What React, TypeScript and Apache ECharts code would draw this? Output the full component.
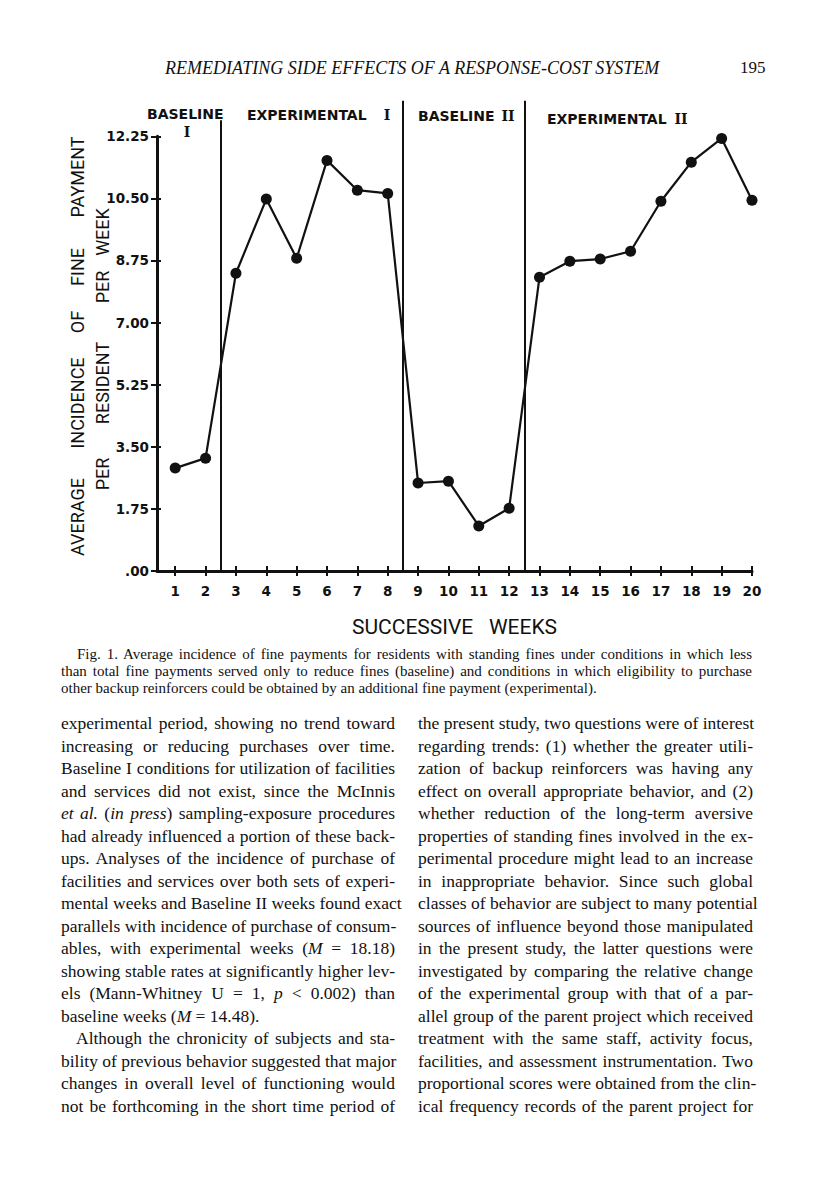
import React, { useEffect, useRef } from "react";
import * as echarts from "echarts";

// ---------- data ----------
const weeks = [1, 2, 3, 4, 5, 6, 7, 8, 9, 10, 11, 12, 13, 14, 15, 16, 17, 18, 19, 20];
const incidence = [2.9, 3.18, 8.39, 10.48, 8.81, 11.57, 10.73, 10.64, 2.48, 2.53, 1.27, 1.77, 8.28, 8.73, 8.79, 9.01, 10.42, 11.52, 12.19, 10.45];
const yAxisMax = 12.25;
const yInterval = 1.75;
const phaseBoundaries = [2.5, 8.5, 12.5];
const phaseLineTops = [12.7, 13.25, 13.25];
const yTitleLine1 = ["AVERAGE", "INCIDENCE", "OF", "FINE", "PAYMENT"];
const yTitleLine2 = ["PER", "RESIDENT", "PER", "WEEK"];
const xTitle = "SUCCESSIVE   WEEKS";

const runningHead = "REMEDIATING SIDE EFFECTS OF A RESPONSE-COST SYSTEM";
const pageNumber = "195";

const captionLines = [
  "Fig. 1. Average incidence of fine payments for residents with standing fines under conditions in which less",
  "than total fine payments served only to reduce fines (baseline) and conditions in which eligibility to purchase",
  "other backup reinforcers could be obtained by an additional fine payment (experimental).",
];

const leftColumn = [
  "experimental period, showing no trend toward",
  "increasing or reducing purchases over time.",
  "Baseline I conditions for utilization of facilities",
  "and services did not exist, since the McInnis",
  "*et al.* (*in press*) sampling-exposure procedures",
  "had already influenced a portion of these back-",
  "ups. Analyses of the incidence of purchase of",
  "facilities and services over both sets of experi-",
  "mental weeks and Baseline II weeks found exact",
  "parallels with incidence of purchase of consum-",
  "ables, with experimental weeks (*M* = 18.18)",
  "showing stable rates at significantly higher lev-",
  "els (Mann-Whitney U = 1, *p* < 0.002) than",
  "baseline weeks (*M* = 14.48).",
  "Although the chronicity of subjects and sta-",
  "bility of previous behavior suggested that major",
  "changes in overall level of functioning would",
  "not be forthcoming in the short time period of",
];
const leftParagraphEnds = [13];
const leftIndented = [14];

const rightColumn = [
  "the present study, two questions were of interest",
  "regarding trends: (1) whether the greater utili-",
  "zation of backup reinforcers was having any",
  "effect on overall appropriate behavior, and (2)",
  "whether reduction of the long-term aversive",
  "properties of standing fines involved in the ex-",
  "perimental procedure might lead to an increase",
  "in inappropriate behavior. Since such global",
  "classes of behavior are subject to many potential",
  "sources of influence beyond those manipulated",
  "in the present study, the latter questions were",
  "investigated by comparing the relative change",
  "of the experimental group with that of a par-",
  "allel group of the parent project which received",
  "treatment with the same staff, activity focus,",
  "facilities, and assessment instrumentation. Two",
  "proportional scores were obtained from the clin-",
  "ical frequency records of the parent project for",
];

const INK = "#111";

function renderItalics(s: string) {
  const parts = s.split("*");
  return parts.map((p, i) => (i % 2 === 1 ? <i key={i}>{p}</i> : <span key={i}>{p}</span>));
}

function Column({ lines, left, width, ends, indents }: { lines: string[]; left: number; width: number; ends: number[]; indents: number[] }) {
  return (
    <>
      {lines.map((ln, i) => {
        const isEnd = ends.includes(i);
        const ind = indents.includes(i) ? 15 : 0;
        return (
          <div
            key={i}
            style={{
              position: "absolute",
              left: left + ind,
              width: width - ind,
              top: 712 + i * 22.5,
              height: 22,
              lineHeight: "22px",
              fontFamily: "'Liberation Serif', serif",
              fontSize: 17.5,
              color: INK,
              whiteSpace: "nowrap",
              textAlign: "justify",
              textAlignLast: isEnd ? "left" : "justify",
            } as any}
          >
            {renderItalics(ln)}
          </div>
        );
      })}
    </>
  );
}

export default function App() {
  const ref = useRef<HTMLDivElement>(null);

  useEffect(() => {
    if (!ref.current) return;
    const chart = echarts.init(ref.current, undefined, { renderer: "svg" });

    const titleFont = "18px Roboto, 'DejaVu Sans', sans-serif";
    const labelFont = "bold 14px 'DejaVu Sans', sans-serif";
    const romanFont = "bold 14px 'DejaVu Serif', serif";
    const tickFontFamily = "'DejaVu Sans', sans-serif";

    const line1Centers = [517, 403, 322, 267, 177];
    const line2Centers = [474, 383, 287, 232];

    const graphics: any[] = [];
    const txt = (t: string, x: number, y: number, font: string, align: string, rotation = 0) => ({
      type: "text",
      x,
      y,
      rotation,
      style: { text: t, font, fill: INK, align, verticalAlign: "middle", textAlign: align, textVerticalAlign: "middle" },
    });
    yTitleLine1.forEach((w, i) => graphics.push(txt(w, 77, line1Centers[i], titleFont, "center", Math.PI / 2)));
    yTitleLine2.forEach((w, i) => graphics.push(txt(w, 102, line2Centers[i], titleFont, "center", Math.PI / 2)));
    graphics.push(txt("BASELINE", 147, 114, labelFont, "left"));
    graphics.push(txt("I", 187, 132, romanFont, "center"));
    graphics.push(txt("EXPERIMENTAL", 247, 115, labelFont, "left"));
    graphics.push(txt("I", 387, 115, romanFont, "center"));
    graphics.push(txt("BASELINE", 418, 116, labelFont, "left"));
    graphics.push(txt("II", 508, 116, romanFont, "center"));
    graphics.push(txt("EXPERIMENTAL", 547, 119, labelFont, "left"));
    graphics.push(txt("II", 681, 119, romanFont, "center"));

    const xMin = 0.4;
    const xMax = 20;
    const gridLeft = 157;
    const gridWidth = 595;
    const plotBottom = 571;
    const plotTop = 99;
    const yMaxOuter = 13.3;
    const pxPerUnit = (plotBottom - plotTop) / yMaxOuter;
    const innerTop = plotBottom - yAxisMax * pxPerUnit;

    const markData: any[] = phaseBoundaries.map((b, i) => [{ coord: [b, 0] }, { coord: [b, phaseLineTops[i]] }]);

    const tickLabel = {
      color: INK,
      fontFamily: tickFontFamily,
      fontSize: 13.5,
      fontWeight: "bold",
    };

    chart.setOption({
      animation: false,
      grid: [
        { left: gridLeft, top: plotTop, width: gridWidth, height: plotBottom - plotTop, containLabel: false, outerBoundsMode: "none" },
        { left: gridLeft, top: innerTop, width: gridWidth, height: plotBottom - innerTop, containLabel: false, outerBoundsMode: "none" },
      ],
      xAxis: [
        {
          type: "value",
          gridIndex: 0,
          min: xMin,
          max: xMax,
          position: "bottom",
          name: xTitle,
          nameLocation: "middle",
          nameGap: 45,
          nameTextStyle: { color: INK, fontFamily: "Roboto, 'DejaVu Sans', sans-serif", fontSize: 21 },
          axisLine: { show: true, onZero: false, lineStyle: { color: INK, width: 3 } },
          axisTick: { show: true, customValues: weeks, length: 5, inside: false, lineStyle: { color: INK, width: 2 } },
          axisLabel: { customValues: weeks, margin: 13, ...tickLabel },
          splitLine: { show: false },
        },
        {
          type: "value",
          gridIndex: 0,
          min: xMin,
          max: xMax,
          position: "bottom",
          axisLine: { show: false },
          axisTick: { show: true, customValues: weeks, length: 5, inside: true, lineStyle: { color: INK, width: 2 } },
          axisLabel: { show: false },
          splitLine: { show: false },
        },
        {
          type: "value",
          gridIndex: 1,
          min: xMin,
          max: xMax,
          show: false,
        },
      ],
      yAxis: [
        {
          type: "value",
          gridIndex: 0,
          min: 0,
          max: yMaxOuter,
          show: false,
        },
        {
          type: "value",
          gridIndex: 1,
          position: "left",
          min: 0,
          max: yAxisMax,
          interval: yInterval,
          axisLine: { show: true, lineStyle: { color: INK, width: 3 } },
          axisTick: { show: true, length: 6, lineStyle: { color: INK, width: 2 } },
          axisLabel: {
            formatter: (v: number) => (v === 0 ? ".00" : v.toFixed(2)),
            margin: 8,
            ...tickLabel,
          },
          splitLine: { show: false },
        },
        {
          type: "value",
          gridIndex: 1,
          position: "left",
          min: 0,
          max: yAxisMax,
          interval: yInterval,
          axisLine: { show: false },
          axisTick: { show: true, inside: true, length: 4, lineStyle: { color: INK, width: 2 } },
          axisLabel: { show: false },
          splitLine: { show: false },
        },
      ],
      graphic: graphics,
      series: [
        {
          type: "line",
          xAxisIndex: 0,
          yAxisIndex: 0,
          data: weeks.map((w, i) => [w, incidence[i]]),
          symbol: "circle",
          symbolSize: 11,
          lineStyle: { color: INK, width: 2.2 },
          itemStyle: { color: INK },
          markLine: {
            silent: true,
            symbol: ["none", "none"],
            label: { show: false },
            lineStyle: { type: "solid", color: INK, width: 2 },
            data: markData,
          },
        },
      ],
    });
    return () => chart.dispose();
  }, []);

  return (
    <div style={{ position: "absolute", left: 0, top: 0, width: 816, height: 1195, background: "#fff", overflow: "hidden" }}>
      <div ref={ref} style={{ position: "absolute", left: 0, top: 0, width: 816, height: 700 }} />
      <div
        style={{
          position: "absolute",
          left: 165,
          top: 57,
          lineHeight: "22px",
          fontFamily: "'Liberation Serif', serif",
          fontStyle: "italic",
          fontSize: 18,
          color: INK,
          whiteSpace: "nowrap",
        }}
      >
        {runningHead}
      </div>
      <div
        style={{
          position: "absolute",
          left: 740,
          top: 57,
          lineHeight: "22px",
          fontFamily: "'Liberation Serif', serif",
          fontSize: 17,
          color: INK,
        }}
      >
        {pageNumber}
      </div>
      {captionLines.map((ln, i) => (
        <div
          key={i}
          style={{
            position: "absolute",
            left: i === 0 ? 77 : 61,
            width: i === 0 ? 675 : 691,
            top: 646 + i * 17,
            lineHeight: "17px",
            fontFamily: "'Liberation Serif', serif",
            fontSize: 15,
            color: INK,
            whiteSpace: "nowrap",
            textAlign: "justify",
            textAlignLast: i === captionLines.length - 1 ? "left" : "justify",
          } as any}
        >
          {ln}
        </div>
      ))}
      <Column lines={leftColumn} left={61} width={334} ends={leftParagraphEnds} indents={leftIndented} />
      <Column lines={rightColumn} left={418} width={335} ends={[]} indents={[]} />
    </div>
  );
}
